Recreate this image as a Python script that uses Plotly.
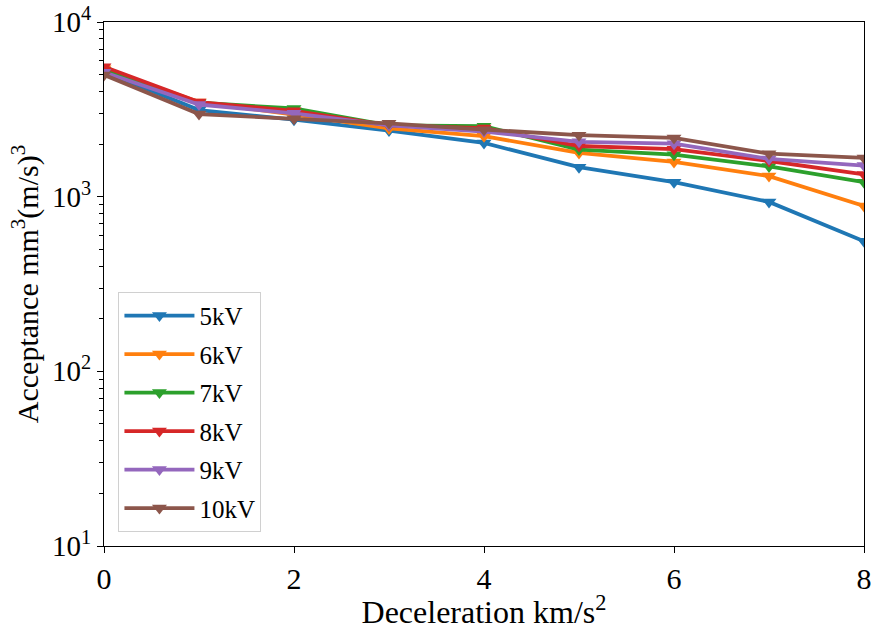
import plotly.graph_objects as go

# Acceptance versus deceleration for several electrode voltages
deceleration = [0, 1, 2, 3, 4, 5, 6, 7, 8]
series_names = ["5kV", "6kV", "7kV", "8kV", "9kV", "10kV"]
acc_5kv = [5200, 3130, 2760, 2390, 2030, 1475, 1210, 933, 555]
acc_6kv = [5400, 3480, 2950, 2460, 2220, 1780, 1580, 1312, 885]
acc_7kv = [5300, 3450, 3200, 2560, 2530, 1860, 1740, 1490, 1210]
acc_8kv = [5550, 3480, 3100, 2560, 2470, 1950, 1870, 1600, 1340]
acc_9kv = [5150, 3370, 3000, 2560, 2360, 2060, 2010, 1645, 1507]
acc_10kv = [4980, 2970, 2790, 2630, 2420, 2250, 2170, 1762, 1667]
series_values = [acc_5kv, acc_6kv, acc_7kv, acc_8kv, acc_9kv, acc_10kv]
colors = ["#1f77b4", "#ff7f0e", "#2ca02c", "#d62728", "#9467bd", "#8c564b"]

x_ticks = [0, 2, 4, 6, 8]
y_ticks = [10, 100, 1000, 10000]
y_ticktext = ["10<sup>1</sup>", "10<sup>2</sup>", "10<sup>3</sup>", "10<sup>4</sup>"]
y_minor = [m * 10 ** e for e in range(1, 4) for m in range(2, 10)]

FONT = "Liberation Serif"

fig = go.Figure()
for name, vals, c in zip(series_names, series_values, colors):
    fig.add_trace(go.Scatter(
        x=deceleration, y=vals, name=name, mode="lines+markers",
        legendgroup=name,
        line=dict(color=c, width=3.8),
        marker=dict(symbol="triangle-down", size=13, color=c),
    ))

fig.update_layout(
    width=872, height=630,
    margin=dict(l=104, r=8, t=22, b=84),
    paper_bgcolor="white", plot_bgcolor="white",
    font=dict(family=FONT, color="black", size=26),
    showlegend=True,
    legend=dict(
        x=0.019, y=0.027, xanchor="left", yanchor="bottom",
        bgcolor="rgba(255,255,255,0.8)", bordercolor="#d0d0d0", borderwidth=1,
        font=dict(family=FONT, size=25), itemwidth=70,
        tracegroupgap=3,
    ),
)

fig.update_xaxes(
    range=[0, 8], tickvals=x_ticks, ticktext=[str(v) for v in x_ticks],
    showline=True, linecolor="black", linewidth=1.2, mirror=True,
    ticks="outside", ticklen=6, tickwidth=1.2, tickcolor="black",
    showgrid=False, zeroline=False, automargin=False,
    tickfont=dict(family=FONT, size=30),
    title=dict(text="Deceleration km/s<sup>2</sup>", font=dict(family=FONT, size=32), standoff=2),
)
fig.update_yaxes(
    type="log", range=[1, 4], tickvals=y_ticks, ticktext=y_ticktext,
    ticklabeloverflow="allow",
    showline=True, linecolor="black", linewidth=1.2, mirror=True,
    ticks="outside", ticklen=6, tickwidth=1.2, tickcolor="black",
    showgrid=False, zeroline=False, automargin=False,
    tickfont=dict(family=FONT, size=29),
    minor=dict(tickvals=y_minor, ticks="outside", ticklen=3.5, tickwidth=1, tickcolor="black", showgrid=False),
    title=dict(text="Acceptance mm<sup>3</sup>(m/s)<sup>3</sup>", font=dict(family=FONT, size=30), standoff=4),
)

fig.write_html("out.html")
